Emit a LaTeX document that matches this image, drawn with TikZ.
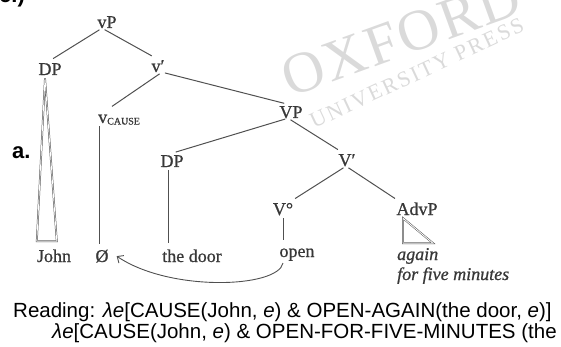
\documentclass[tikz,border=0pt]{standalone}
\usepackage{fontspec}
\setmainfont{Liberation Serif}
\newfontfamily\arial{Liberation Sans}
\newfontfamily\treefont[FakeBold=0.8]{Liberation Serif}
\usetikzlibrary{arrows.meta}
\definecolor{treegray}{HTML}{383838}
\definecolor{linegray}{HTML}{505050}
\definecolor{wm}{HTML}{DADADA}
\begin{document}
\begin{tikzpicture}[x=1pt,y=-1pt,
 lab/.style={anchor=base, inner sep=0pt, text=treegray, font=\treefont\fontsize{18}{18}\selectfont, text height=13pt, text depth=0pt},
 term/.style={anchor=base, inner sep=0pt, text=treegray, font=\treefont\fontsize{18}{18}\selectfont},
 br/.style={draw=linegray, line width=1pt, shorten <=3pt, shorten >=6pt},
 tri/.style={draw=linegray, double=white, double distance=0.8pt, line width=0.5pt, line join=miter},
 sans/.style={anchor=base west, inner sep=0pt, font=\arial\fontsize{20.5}{20.5}\selectfont},
 ]
\useasboundingbox (0,0) rectangle (561,347);
% watermark
\node[rotate=20, anchor=base west, inner sep=0pt, text=wm, font=\fontsize{58}{58}\selectfont\addfontfeature{LetterSpace=4}] (wma) at (290,98) {OXFORD};
\node[rotate=25, anchor=base west, inner sep=0pt, text=wm, font=\fontsize{22}{22}\selectfont\addfontfeature{LetterSpace=10}] (wmb) at (314,129) {UNIVERSITY PRESS};
% cut-off fragment
\begin{scope}
\clip (0,0) rectangle (60,10);
\node[anchor=base west, inner sep=0pt, font=\arial\bfseries\fontsize{22}{22}\selectfont] (frag) at (-1,3) {c.)};
\end{scope}
% tree labels
\node[lab] (vP) at (107,28) {vP};
\node[lab] (DPa) at (50,75) {DP};
\node[lab] (vbar) at (158,72) {v′};
\node[lab, anchor=base west] (vc) at (98,123) {v\raisebox{-1.5pt}{\fontsize{10}{10}\selectfont CAUSE}};
\node[lab] (VP) at (291,118) {VP};
\node[lab] (DPb) at (172,167) {DP};
\node[lab] (Vbar) at (347,166) {V′};
\node[lab] (V0) at (283,215) {V°};
\node[lab] (AdvP) at (417,215) {AdvP};
\node[term] (John) at (54,262) {John};
\node[term] (null) at (102,262) {Ø};
\node[term] (door) at (192,262) {the door};
\node[term] (open) at (297,257) {open};
\node[term, anchor=base west] (again) at (397,260) {\itshape again};
\node[term, anchor=base west] (ffm) at (397,280) {\itshape for five minutes};
% branches
\draw[br] ([xshift=-5pt]vP.south) -- ([xshift=-2pt]DPa.north);
\draw[br] ([xshift=-5pt]vP.south) -- ([xshift=-1pt]vbar.north);
\draw[br] ([xshift=4pt]vbar.south) -- ([xshift=9pt]vc.north west);
\draw[br] ([xshift=4pt]vbar.south) -- ([xshift=-1pt]VP.north);
\draw[br] ([xshift=-3pt]VP.south) -- ([xshift=-2pt]DPb.north);
\draw[br] ([xshift=-3pt]VP.south) -- ([xshift=-4pt]Vbar.north);
\draw[br] ([xshift=-1pt]Vbar.south) -- ([xshift=7pt]V0.north);
\draw[br] ([xshift=-1pt]Vbar.south) -- ([xshift=-17pt]AdvP.north);
% vertical lines
\draw[br] ([xshift=1pt]vc.south west) -- ([xshift=-3pt]null.north);
\draw[br] ([xshift=-4pt]DPb.south) -- ([xshift=-24pt]door.north);
\draw[br, shorten >=8pt] (V0.south) -- ([xshift=-14pt]open.north);
% triangles
\draw[tri] ([xshift=-5pt,yshift=-3pt]DPa.south) -- ([yshift=8pt]John.north west) -- ([xshift=20pt,yshift=8pt]John.north west) -- cycle;
\draw[tri] ([xshift=-14pt,yshift=-3pt]AdvP.south) -- ([xshift=-14pt,yshift=-28pt]AdvP.south) -- ([xshift=16pt,yshift=-28pt]AdvP.south) -- cycle;
% movement arrow
\draw[linegray, line width=0.9pt, -{Straight Barb[length=5pt,width=9pt]}] ([xshift=-14pt,yshift=-2pt]open.south) .. controls +(-5,25) and +(53,36) .. ([xshift=8pt]null.east);
% labels
\node[anchor=base west, inner sep=0pt, font=\arial\bfseries\fontsize{22}{22}\selectfont] (alab) at (12,159) {a.};
\node[sans] (r1) at (13,317) {Reading: \textit{λe}[CAUSE(John, \textit{e}) \& OPEN-AGAIN(the door, \textit{e})]};
\node[sans] (r2) at (52,338) {\textit{λe}[CAUSE(John, \textit{e}) \& OPEN-FOR-FIVE-MINUTES (the};
\end{tikzpicture}
\end{document}
